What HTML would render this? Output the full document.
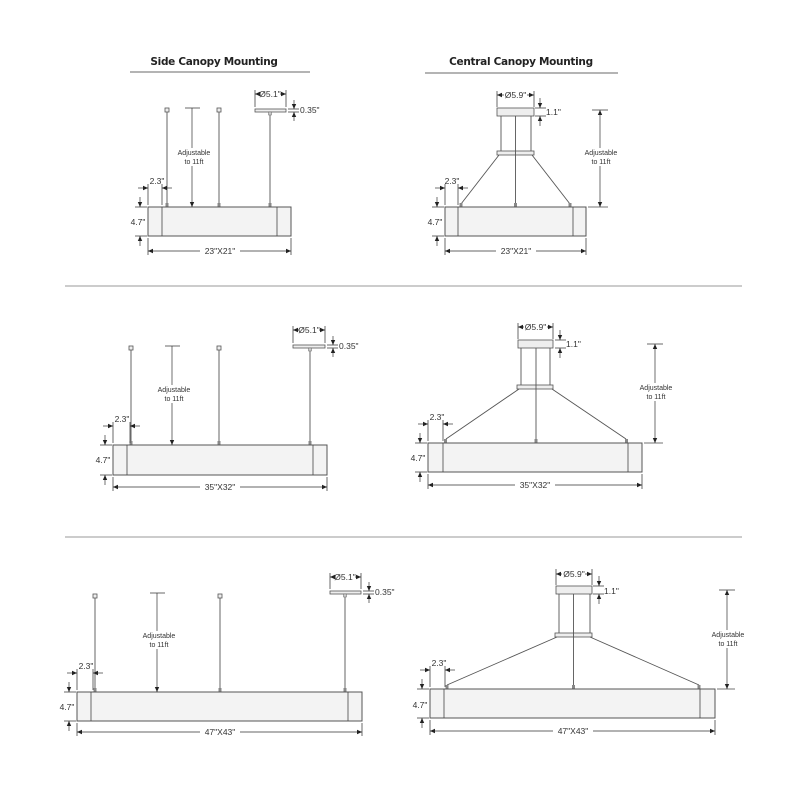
<!DOCTYPE html>
<html><head><meta charset="utf-8"><style>
html,body{margin:0;padding:0;background:#fff;width:800px;height:800px;overflow:hidden}
svg{display:block}
text{font-family:"Liberation Sans",sans-serif;fill:#333}
.d{font-size:8.5px}
.s{font-size:7px}
.h{font-size:10.5px;font-weight:bold;fill:#222;font-family:"DejaVu Sans","Liberation Sans",sans-serif;letter-spacing:-0.3px}
.l{stroke:#444;stroke-width:0.8;fill:none}
.r{stroke:#555;stroke-width:0.9}
.b{fill:#f3f3f3;stroke:#555;stroke-width:1}
.c{fill:#eee;stroke:#555;stroke-width:0.8}
.a{stroke:#333;stroke-width:0.7;fill:none;marker-end:url(#m)}
.aa{stroke:#333;stroke-width:0.7;fill:none;marker-start:url(#m);marker-end:url(#m)}
</style></head><body>
<svg width="800" height="800" viewBox="0 0 800 800" xmlns="http://www.w3.org/2000/svg">
<defs><marker id="m" markerWidth="6" markerHeight="6" refX="5" refY="3" orient="auto-start-reverse" markerUnits="userSpaceOnUse"><path d="M0,0.8 L5,3 L0,5.2 Z" fill="#222"/></marker></defs>

<!-- headers -->
<text class="h" x="214" y="65" text-anchor="middle">Side Canopy Mounting</text>
<line x1="130" y1="72" x2="310" y2="72" stroke="#888" stroke-width="1.2"/>
<text class="h" x="521" y="65" text-anchor="middle">Central Canopy Mounting</text>
<line x1="425" y1="73" x2="618" y2="73" stroke="#888" stroke-width="1.2"/>
<line x1="65" y1="286" x2="742" y2="286" stroke="#999" stroke-width="1"/>
<line x1="65" y1="537" x2="742" y2="537" stroke="#999" stroke-width="1"/>

<!-- PANEL 1 -->
<g>
<line class="r" x1="167" y1="112" x2="167" y2="206"/><rect x="165" y="108" width="4" height="4" class="c"/><rect x="165.5" y="203" width="3" height="4" fill="#888"/>
<line class="r" x1="219" y1="112" x2="219" y2="206"/><rect x="217" y="108" width="4" height="4" class="c"/><rect x="217.5" y="203" width="3" height="4" fill="#888"/>
<line class="r" x1="270" y1="112" x2="270" y2="206"/><rect x="255" y="109" width="31" height="3" class="c"/><rect x="268.5" y="112" width="3" height="3" fill="#ccc" stroke="#666" stroke-width="0.5"/><rect x="268.5" y="203" width="3" height="4" fill="#888"/>
<rect x="148" y="207" width="143" height="29" class="b"/>
<line class="l" x1="162" y1="207" x2="162" y2="236"/><line class="l" x1="277" y1="207" x2="277" y2="236"/>
<line class="l" x1="255" y1="90" x2="255" y2="107"/><line class="l" x1="286" y1="90" x2="286" y2="107"/>
<line class="aa" x1="255" y1="94" x2="286" y2="94"/><rect x="260" y="89" width="20" height="9" fill="#fff"/><text class="d" x="270" y="97" text-anchor="middle">Ø5.1"</text>
<line class="l" x1="288" y1="109" x2="299" y2="109"/><line class="l" x1="288" y1="112" x2="299" y2="112"/>
<line class="a" x1="294" y1="100" x2="294" y2="109"/><line class="a" x1="294" y1="121" x2="294" y2="112"/>
<text class="d" x="300" y="113">0.35"</text>
<line class="l" x1="185" y1="108" x2="200" y2="108"/><line class="a" x1="192" y1="108" x2="192" y2="207"/>
<rect x="176" y="148" width="36" height="18" fill="#fff"/><text class="s" x="194" y="155" text-anchor="middle">Adjustable</text><text class="s" x="194" y="164" text-anchor="middle">to 11ft</text>
<line class="l" x1="148" y1="184" x2="148" y2="205"/><line class="l" x1="162" y1="184" x2="162" y2="205"/>
<line class="a" x1="138" y1="188" x2="148" y2="188"/><line class="a" x1="172" y1="188" x2="162" y2="188"/>
<text class="d" x="157" y="184" text-anchor="middle">2.3"</text>
<line class="l" x1="135" y1="207" x2="147" y2="207"/><line class="l" x1="135" y1="236" x2="147" y2="236"/>
<line class="a" x1="140" y1="197" x2="140" y2="207"/><line class="a" x1="140" y1="246" x2="140" y2="236"/>
<text class="d" x="138" y="225" text-anchor="middle">4.7"</text>
<line class="l" x1="148" y1="238" x2="148" y2="255"/><line class="l" x1="291" y1="238" x2="291" y2="255"/>
<line class="aa" x1="148" y1="251" x2="291" y2="251"/><rect x="200" y="246" width="40" height="9" fill="#fff"/><text class="d" x="220" y="254" text-anchor="middle">23"X21"</text>
</g>

<!-- PANEL 2 -->
<g>
<rect x="497" y="108" width="37" height="8" class="c"/>
<line class="r" x1="501" y1="116" x2="501" y2="151"/><line class="r" x1="531" y1="116" x2="531" y2="151"/>
<rect x="497" y="151" width="37" height="4" class="c"/>
<line class="r" x1="515.5" y1="116" x2="515.5" y2="206"/><rect x="514" y="203" width="3" height="4" fill="#888"/>
<line class="r" x1="499" y1="155" x2="461" y2="204"/><line class="r" x1="532" y1="155" x2="570" y2="204"/>
<rect x="459.5" y="203" width="3" height="4" fill="#888"/><rect x="568.5" y="203" width="3" height="4" fill="#888"/>
<rect x="445" y="207" width="141" height="29" class="b"/>
<line class="l" x1="458" y1="207" x2="458" y2="236"/><line class="l" x1="573" y1="207" x2="573" y2="236"/>
<line class="l" x1="497" y1="91" x2="497" y2="107"/><line class="l" x1="534" y1="91" x2="534" y2="107"/>
<line class="aa" x1="497" y1="95" x2="534" y2="95"/><rect x="504" y="90" width="23" height="9" fill="#fff"/><text class="d" x="515.5" y="98" text-anchor="middle">Ø5.9"</text>
<line class="l" x1="535" y1="108" x2="546" y2="108"/><line class="l" x1="535" y1="116" x2="546" y2="116"/>
<line class="a" x1="540" y1="98" x2="540" y2="108"/><line class="a" x1="540" y1="126" x2="540" y2="116"/>
<text class="d" x="546" y="115">1.1"</text>
<line class="l" x1="592" y1="110" x2="608" y2="110"/><line class="l" x1="588" y1="207" x2="608" y2="207"/>
<line class="aa" x1="600" y1="110" x2="600" y2="207"/>
<rect x="583" y="148" width="36" height="18" fill="#fff"/><text class="s" x="601" y="155" text-anchor="middle">Adjustable</text><text class="s" x="601" y="164" text-anchor="middle">to 11ft</text>
<line class="l" x1="445" y1="184" x2="445" y2="205"/><line class="l" x1="458" y1="184" x2="458" y2="205"/>
<line class="a" x1="435" y1="188" x2="445" y2="188"/><line class="a" x1="468" y1="188" x2="458" y2="188"/>
<text class="d" x="452" y="184" text-anchor="middle">2.3"</text>
<line class="l" x1="432" y1="207" x2="444" y2="207"/><line class="l" x1="432" y1="236" x2="444" y2="236"/>
<line class="a" x1="437" y1="197" x2="437" y2="207"/><line class="a" x1="437" y1="246" x2="437" y2="236"/>
<text class="d" x="435" y="225" text-anchor="middle">4.7"</text>
<line class="l" x1="445" y1="238" x2="445" y2="255"/><line class="l" x1="586" y1="238" x2="586" y2="255"/>
<line class="aa" x1="445" y1="251" x2="586" y2="251"/><rect x="496" y="246" width="40" height="9" fill="#fff"/><text class="d" x="516" y="254" text-anchor="middle">23"X21"</text>
</g>

<!-- PANEL 3 -->
<g>
<line class="r" x1="131" y1="350" x2="131" y2="444"/><rect x="129" y="346" width="4" height="4" class="c"/><rect x="129.5" y="441" width="3" height="4" fill="#888"/>
<line class="r" x1="219" y1="350" x2="219" y2="444"/><rect x="217" y="346" width="4" height="4" class="c"/><rect x="217.5" y="441" width="3" height="4" fill="#888"/>
<line class="r" x1="310" y1="348" x2="310" y2="444"/><rect x="293" y="345" width="32" height="3" class="c"/><rect x="308.5" y="348" width="3" height="3" fill="#ccc" stroke="#666" stroke-width="0.5"/><rect x="308.5" y="441" width="3" height="4" fill="#888"/>
<rect x="113" y="445" width="214" height="30" class="b"/>
<line class="l" x1="127" y1="445" x2="127" y2="475"/><line class="l" x1="313" y1="445" x2="313" y2="475"/>
<line class="l" x1="293" y1="326" x2="293" y2="343"/><line class="l" x1="325" y1="326" x2="325" y2="343"/>
<line class="aa" x1="293" y1="330" x2="325" y2="330"/><rect x="299" y="325" width="20" height="9" fill="#fff"/><text class="d" x="309" y="333" text-anchor="middle">Ø5.1"</text>
<line class="l" x1="327" y1="345" x2="338" y2="345"/><line class="l" x1="327" y1="348" x2="338" y2="348"/>
<line class="a" x1="333" y1="336" x2="333" y2="345"/><line class="a" x1="333" y1="357" x2="333" y2="348"/>
<text class="d" x="339" y="349">0.35"</text>
<line class="l" x1="165" y1="346" x2="180" y2="346"/><line class="a" x1="172" y1="346" x2="172" y2="445"/>
<rect x="156" y="385" width="36" height="18" fill="#fff"/><text class="s" x="174" y="392" text-anchor="middle">Adjustable</text><text class="s" x="174" y="401" text-anchor="middle">to 11ft</text>
<line class="l" x1="113" y1="422" x2="113" y2="443"/><line class="l" x1="130" y1="422" x2="130" y2="443"/>
<line class="a" x1="103" y1="426" x2="113" y2="426"/><line class="a" x1="140" y1="426" x2="130" y2="426"/>
<text class="d" x="122" y="422" text-anchor="middle">2.3"</text>
<line class="l" x1="100" y1="445" x2="112" y2="445"/><line class="l" x1="100" y1="475" x2="112" y2="475"/>
<line class="a" x1="105" y1="435" x2="105" y2="445"/><line class="a" x1="105" y1="485" x2="105" y2="475"/>
<text class="d" x="103" y="463" text-anchor="middle">4.7"</text>
<line class="l" x1="113" y1="477" x2="113" y2="491"/><line class="l" x1="327" y1="477" x2="327" y2="491"/>
<line class="aa" x1="113" y1="487" x2="327" y2="487"/><rect x="200" y="482" width="40" height="9" fill="#fff"/><text class="d" x="220" y="490" text-anchor="middle">35"X32"</text>
</g>

<!-- PANEL 4 -->
<g>
<rect x="518" y="340" width="35" height="8" class="c"/>
<line class="r" x1="521" y1="348" x2="521" y2="385"/><line class="r" x1="550" y1="348" x2="550" y2="385"/>
<rect x="517" y="385" width="36" height="4" class="c"/>
<line class="r" x1="536" y1="348" x2="536" y2="442"/><rect x="534.5" y="439" width="3" height="4" fill="#888"/>
<line class="r" x1="519" y1="389" x2="446" y2="439"/><line class="r" x1="552" y1="389" x2="626" y2="439"/>
<rect x="444" y="439" width="3" height="4" fill="#888"/><rect x="625" y="439" width="3" height="4" fill="#888"/>
<rect x="428" y="443" width="214" height="29" class="b"/>
<line class="l" x1="443" y1="443" x2="443" y2="472"/><line class="l" x1="628" y1="443" x2="628" y2="472"/>
<line class="l" x1="518" y1="323" x2="518" y2="339"/><line class="l" x1="553" y1="323" x2="553" y2="339"/>
<line class="aa" x1="518" y1="327" x2="553" y2="327"/><rect x="524" y="322" width="23" height="9" fill="#fff"/><text class="d" x="535.5" y="330" text-anchor="middle">Ø5.9"</text>
<line class="l" x1="555" y1="340" x2="566" y2="340"/><line class="l" x1="555" y1="348" x2="566" y2="348"/>
<line class="a" x1="560" y1="330" x2="560" y2="340"/><line class="a" x1="560" y1="358" x2="560" y2="348"/>
<text class="d" x="566" y="347">1.1"</text>
<line class="l" x1="647" y1="344" x2="663" y2="344"/><line class="l" x1="644" y1="443" x2="663" y2="443"/>
<line class="aa" x1="655" y1="344" x2="655" y2="443"/>
<rect x="638" y="383" width="36" height="18" fill="#fff"/><text class="s" x="656" y="390" text-anchor="middle">Adjustable</text><text class="s" x="656" y="399" text-anchor="middle">to 11ft</text>
<line class="l" x1="428" y1="420" x2="428" y2="441"/><line class="l" x1="443" y1="420" x2="443" y2="441"/>
<line class="a" x1="418" y1="424" x2="428" y2="424"/><line class="a" x1="453" y1="424" x2="443" y2="424"/>
<text class="d" x="437" y="420" text-anchor="middle">2.3"</text>
<line class="l" x1="415" y1="443" x2="427" y2="443"/><line class="l" x1="415" y1="472" x2="427" y2="472"/>
<line class="a" x1="420" y1="433" x2="420" y2="443"/><line class="a" x1="420" y1="482" x2="420" y2="472"/>
<text class="d" x="418" y="461" text-anchor="middle">4.7"</text>
<line class="l" x1="428" y1="474" x2="428" y2="489"/><line class="l" x1="642" y1="474" x2="642" y2="489"/>
<line class="aa" x1="428" y1="485" x2="642" y2="485"/><rect x="515" y="480" width="40" height="9" fill="#fff"/><text class="d" x="535" y="488" text-anchor="middle">35"X32"</text>
</g>

<!-- PANEL 5 -->
<g>
<line class="r" x1="95" y1="598" x2="95" y2="691"/><rect x="93" y="594" width="4" height="4" class="c"/><rect x="93.5" y="688" width="3" height="4" fill="#888"/>
<line class="r" x1="220" y1="598" x2="220" y2="691"/><rect x="218" y="594" width="4" height="4" class="c"/><rect x="218.5" y="688" width="3" height="4" fill="#888"/>
<line class="r" x1="345" y1="594" x2="345" y2="691"/><rect x="330" y="591" width="31" height="3" class="c"/><rect x="343.5" y="594" width="3" height="3" fill="#ccc" stroke="#666" stroke-width="0.5"/><rect x="343.5" y="688" width="3" height="4" fill="#888"/>
<rect x="77" y="692" width="285" height="29" class="b"/>
<line class="l" x1="91" y1="692" x2="91" y2="721"/><line class="l" x1="348" y1="692" x2="348" y2="721"/>
<line class="l" x1="330" y1="573" x2="330" y2="589"/><line class="l" x1="361" y1="573" x2="361" y2="589"/>
<line class="aa" x1="330" y1="577" x2="361" y2="577"/><rect x="335" y="572" width="20" height="9" fill="#fff"/><text class="d" x="345" y="580" text-anchor="middle">Ø5.1"</text>
<line class="l" x1="363" y1="591" x2="374" y2="591"/><line class="l" x1="363" y1="594" x2="374" y2="594"/>
<line class="a" x1="369" y1="582" x2="369" y2="591"/><line class="a" x1="369" y1="603" x2="369" y2="594"/>
<text class="d" x="375" y="595">0.35"</text>
<line class="l" x1="150" y1="593" x2="165" y2="593"/><line class="a" x1="157" y1="593" x2="157" y2="692"/>
<rect x="141" y="631" width="36" height="18" fill="#fff"/><text class="s" x="159" y="638" text-anchor="middle">Adjustable</text><text class="s" x="159" y="647" text-anchor="middle">to 11ft</text>
<line class="l" x1="77" y1="669" x2="77" y2="690"/><line class="l" x1="93" y1="669" x2="93" y2="690"/>
<line class="a" x1="67" y1="673" x2="77" y2="673"/><line class="a" x1="103" y1="673" x2="93" y2="673"/>
<text class="d" x="86" y="669" text-anchor="middle">2.3"</text>
<line class="l" x1="64" y1="692" x2="76" y2="692"/><line class="l" x1="64" y1="721" x2="76" y2="721"/>
<line class="a" x1="69" y1="682" x2="69" y2="692"/><line class="a" x1="69" y1="731" x2="69" y2="721"/>
<text class="d" x="67" y="710" text-anchor="middle">4.7"</text>
<line class="l" x1="77" y1="723" x2="77" y2="736"/><line class="l" x1="362" y1="723" x2="362" y2="736"/>
<line class="aa" x1="77" y1="732" x2="362" y2="732"/><rect x="200" y="727" width="40" height="9" fill="#fff"/><text class="d" x="220" y="735" text-anchor="middle">47"X43"</text>
</g>

<!-- PANEL 6 -->
<g>
<rect x="556" y="586" width="36" height="8" class="c"/>
<line class="r" x1="559" y1="594" x2="559" y2="633"/><line class="r" x1="590" y1="594" x2="590" y2="633"/>
<rect x="555" y="633" width="37" height="4" class="c"/>
<line class="r" x1="573.5" y1="594" x2="573.5" y2="688"/><rect x="572" y="685" width="3" height="4" fill="#888"/>
<line class="r" x1="557" y1="637" x2="447" y2="685"/><line class="r" x1="590" y1="637" x2="699" y2="685"/>
<rect x="445.5" y="685" width="3" height="4" fill="#888"/><rect x="697.5" y="685" width="3" height="4" fill="#888"/>
<rect x="430" y="689" width="285" height="29" class="b"/>
<line class="l" x1="444" y1="689" x2="444" y2="718"/><line class="l" x1="700" y1="689" x2="700" y2="718"/>
<line class="l" x1="556" y1="569" x2="556" y2="585"/><line class="l" x1="592" y1="569" x2="592" y2="585"/>
<line class="aa" x1="556" y1="574" x2="592" y2="574"/><rect x="562" y="569" width="23" height="9" fill="#fff"/><text class="d" x="574" y="577" text-anchor="middle">Ø5.9"</text>
<line class="l" x1="593" y1="586" x2="604" y2="586"/><line class="l" x1="593" y1="594" x2="604" y2="594"/>
<line class="a" x1="599" y1="576" x2="599" y2="586"/><line class="a" x1="599" y1="604" x2="599" y2="594"/>
<text class="d" x="604" y="594">1.1"</text>
<line class="l" x1="719" y1="590" x2="735" y2="590"/><line class="l" x1="717" y1="689" x2="735" y2="689"/>
<line class="aa" x1="727" y1="590" x2="727" y2="689"/>
<rect x="710" y="630" width="36" height="18" fill="#fff"/><text class="s" x="728" y="637" text-anchor="middle">Adjustable</text><text class="s" x="728" y="646" text-anchor="middle">to 11ft</text>
<line class="l" x1="430" y1="666" x2="430" y2="687"/><line class="l" x1="445" y1="666" x2="445" y2="687"/>
<line class="a" x1="420" y1="670" x2="430" y2="670"/><line class="a" x1="455" y1="670" x2="445" y2="670"/>
<text class="d" x="439" y="666" text-anchor="middle">2.3"</text>
<line class="l" x1="417" y1="689" x2="429" y2="689"/><line class="l" x1="417" y1="718" x2="429" y2="718"/>
<line class="a" x1="422" y1="679" x2="422" y2="689"/><line class="a" x1="422" y1="728" x2="422" y2="718"/>
<text class="d" x="420" y="708" text-anchor="middle">4.7"</text>
<line class="l" x1="430" y1="720" x2="430" y2="735"/><line class="l" x1="715" y1="720" x2="715" y2="735"/>
<line class="aa" x1="430" y1="731" x2="715" y2="731"/><rect x="553" y="726" width="40" height="9" fill="#fff"/><text class="d" x="573" y="734" text-anchor="middle">47"X43"</text>
</g>
</svg>
</body></html>
